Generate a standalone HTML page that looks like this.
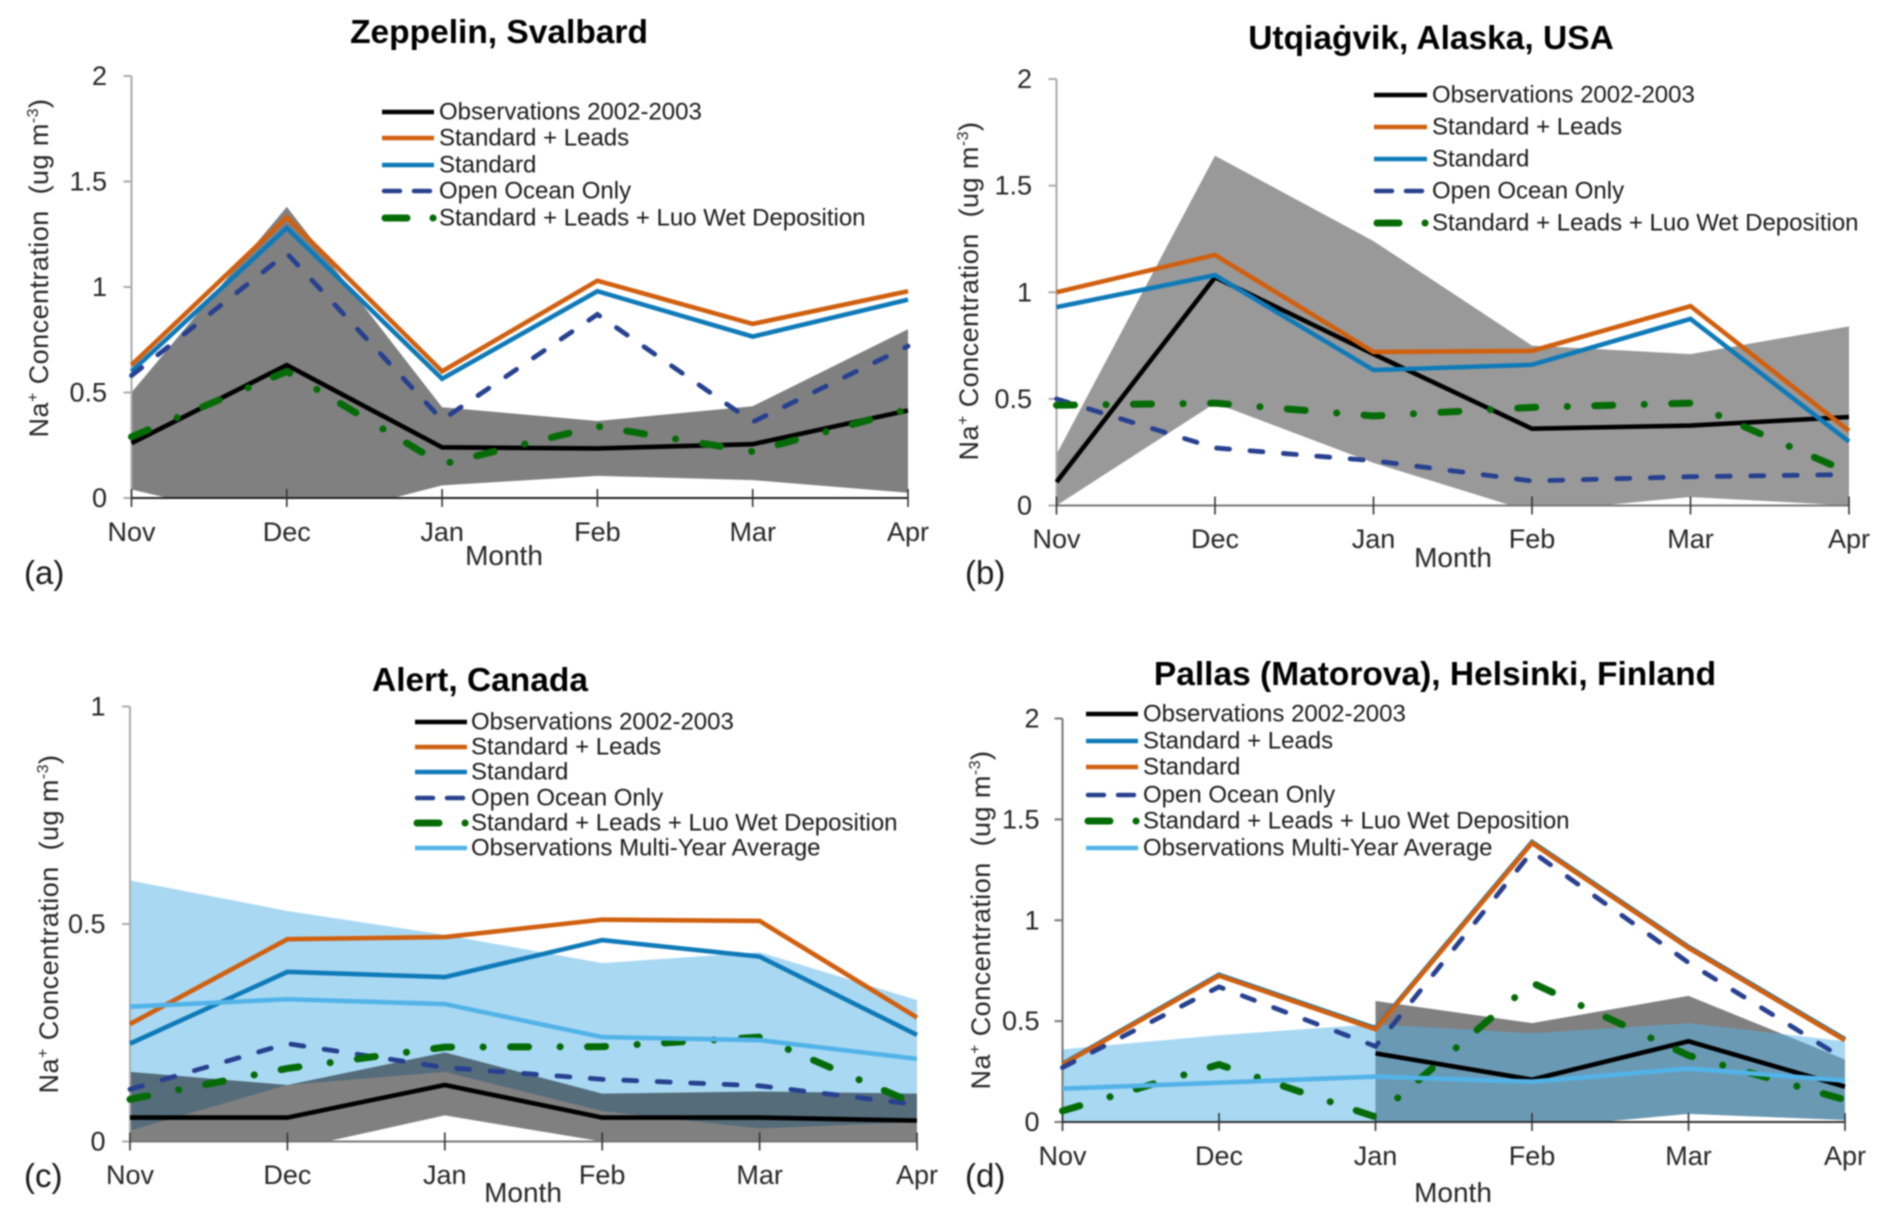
<!DOCTYPE html>
<html lang="en">
<head>
<meta charset="utf-8">
<title>Na+ Concentration at Arctic Sites</title>
<style>
html,body{margin:0;padding:0;background:#fff;}
#figure{display:block;width:1892px;height:1231px;filter:blur(0.7px);font-family:"Liberation Sans",Arial,sans-serif;}
.title{font-size:33.5px;font-weight:bold;text-anchor:middle;fill:#000;}
.leg{font-size:24px;fill:#1a1a1a;dominant-baseline:central;}
.ylab{font-size:27px;fill:#262626;text-anchor:middle;letter-spacing:0.45px;}
.month{font-size:28px;fill:#262626;text-anchor:middle;}
.letter{font-size:33px;fill:#1a1a1a;}
.tick{font-size:27px;fill:#262626;}
.sw{fill:none;}
</style>
</head>
<body>
<svg id="figure" xmlns="http://www.w3.org/2000/svg" width="1892" height="1231" viewBox="0 0 1892 1231">
  <rect x="0" y="0" width="1892" height="1231" fill="#fff"/>

  <g id="panel-a">
    <g id="marks-a"></g>
    <text class="title" x="499" y="43">Zeppelin, Svalbard</text>
    <text class="ylab" transform="translate(48 268) rotate(-90)">Na<tspan font-size="16" dy="-10">+</tspan><tspan dy="10"> Concentration &#160;(ug m</tspan><tspan font-size="16" dy="-10">-3</tspan><tspan dy="10">)</tspan></text>
    <text class="month" x="504" y="565">Month</text>
    <text class="letter" x="24" y="584">(a)</text>
    <g>
      <g><line class="sw" x1="382" x2="434" y1="112" y2="112" stroke="#000" stroke-width="4.5"/><text class="leg" x="439" y="112">Observations 2002-2003</text></g>
      <g><line class="sw" x1="382" x2="434" y1="138" y2="138" stroke="#d0600f" stroke-width="4.5"/><text class="leg" x="439" y="138">Standard + Leads</text></g>
      <g><line class="sw" x1="382" x2="434" y1="165" y2="165" stroke="#0f7ab8" stroke-width="4.5"/><text class="leg" x="439" y="165">Standard</text></g>
      <g><line class="sw" x1="384" x2="434" y1="191" y2="191" stroke="#27408f" stroke-width="4.5" stroke-dasharray="16 14" stroke-linecap="round"/><text class="leg" x="439" y="191">Open Ocean Only</text></g>
      <g><line class="sw" x1="385" x2="434" y1="218" y2="218" stroke="#056b07" stroke-width="7" stroke-dasharray="22 26 0.1 40" stroke-linecap="round"/><text class="leg" x="439" y="218">Standard + Leads + Luo Wet Deposition</text></g>
    </g>
  </g>

  <g id="panel-b">
    <g id="marks-b"></g>
    <text class="title" x="1431" y="49">Utqiaġvik, Alaska, USA</text>
    <text class="ylab" transform="translate(978 291) rotate(-90)">Na<tspan font-size="16" dy="-10">+</tspan><tspan dy="10"> Concentration &#160;(ug m</tspan><tspan font-size="16" dy="-10">-3</tspan><tspan dy="10">)</tspan></text>
    <text class="month" x="1453" y="567">Month</text>
    <text class="letter" x="965" y="584">(b)</text>
    <g>
      <g><line class="sw" x1="1374" x2="1427" y1="95" y2="95" stroke="#000" stroke-width="4.5"/><text class="leg" x="1432" y="95">Observations 2002-2003</text></g>
      <g><line class="sw" x1="1374" x2="1427" y1="127" y2="127" stroke="#d0600f" stroke-width="4.5"/><text class="leg" x="1432" y="127">Standard + Leads</text></g>
      <g><line class="sw" x1="1374" x2="1427" y1="159" y2="159" stroke="#0f7ab8" stroke-width="4.5"/><text class="leg" x="1432" y="159">Standard</text></g>
      <g><line class="sw" x1="1376" x2="1427" y1="191" y2="191" stroke="#27408f" stroke-width="4.5" stroke-dasharray="16 14" stroke-linecap="round"/><text class="leg" x="1432" y="191">Open Ocean Only</text></g>
      <g><line class="sw" x1="1377" x2="1427" y1="223" y2="223" stroke="#056b07" stroke-width="7" stroke-dasharray="22 26 0.1 40" stroke-linecap="round"/><text class="leg" x="1432" y="223">Standard + Leads + Luo Wet Deposition</text></g>
    </g>
  </g>

  <g id="panel-c">
    <g id="marks-c"></g>
    <text class="title" x="480" y="691">Alert, Canada</text>
    <text class="ylab" transform="translate(58 924) rotate(-90)">Na<tspan font-size="16" dy="-10">+</tspan><tspan dy="10"> Concentration &#160;(ug m</tspan><tspan font-size="16" dy="-10">-3</tspan><tspan dy="10">)</tspan></text>
    <text class="month" x="523" y="1202">Month</text>
    <text class="letter" x="24" y="1187">(c)</text>
    <g>
      <g><line class="sw" x1="415" x2="467" y1="722" y2="722" stroke="#000" stroke-width="4.5"/><text class="leg" x="471" y="722">Observations 2002-2003</text></g>
      <g><line class="sw" x1="415" x2="467" y1="747" y2="747" stroke="#d0600f" stroke-width="4.5"/><text class="leg" x="471" y="747">Standard + Leads</text></g>
      <g><line class="sw" x1="415" x2="467" y1="772" y2="772" stroke="#0f7ab8" stroke-width="4.5"/><text class="leg" x="471" y="772">Standard</text></g>
      <g><line class="sw" x1="417" x2="467" y1="798" y2="798" stroke="#27408f" stroke-width="4.5" stroke-dasharray="16 14" stroke-linecap="round"/><text class="leg" x="471" y="798">Open Ocean Only</text></g>
      <g><line class="sw" x1="417" x2="467" y1="823" y2="823" stroke="#056b07" stroke-width="7" stroke-dasharray="22 26 0.1 40" stroke-linecap="round"/><text class="leg" x="471" y="823">Standard + Leads + Luo Wet Deposition</text></g>
      <g><line class="sw" x1="415" x2="467" y1="848" y2="848" stroke="#52b3e8" stroke-width="4.5"/><text class="leg" x="471" y="848">Observations Multi-Year Average</text></g>
    </g>
  </g>

  <g id="panel-d">
    <g id="marks-d"></g>
    <text class="title" x="1435" y="685">Pallas (Matorova), Helsinki, Finland</text>
    <text class="ylab" transform="translate(990 920) rotate(-90)">Na<tspan font-size="16" dy="-10">+</tspan><tspan dy="10"> Concentration &#160;(ug m</tspan><tspan font-size="16" dy="-10">-3</tspan><tspan dy="10">)</tspan></text>
    <text class="month" x="1453" y="1202">Month</text>
    <text class="letter" x="965" y="1187">(d)</text>
    <g>
      <g><line class="sw" x1="1086" x2="1138" y1="714" y2="714" stroke="#000" stroke-width="4.5"/><text class="leg" x="1143" y="714">Observations 2002-2003</text></g>
      <g><line class="sw" x1="1086" x2="1138" y1="741" y2="741" stroke="#0f7ab8" stroke-width="4.5"/><text class="leg" x="1143" y="741">Standard + Leads</text></g>
      <g><line class="sw" x1="1086" x2="1138" y1="767" y2="767" stroke="#d0600f" stroke-width="4.5"/><text class="leg" x="1143" y="767">Standard</text></g>
      <g><line class="sw" x1="1088" x2="1138" y1="795" y2="795" stroke="#27408f" stroke-width="4.5" stroke-dasharray="16 14" stroke-linecap="round"/><text class="leg" x="1143" y="795">Open Ocean Only</text></g>
      <g><line class="sw" x1="1088" x2="1138" y1="821" y2="821" stroke="#056b07" stroke-width="7" stroke-dasharray="22 26 0.1 40" stroke-linecap="round"/><text class="leg" x="1143" y="821">Standard + Leads + Luo Wet Deposition</text></g>
      <g><line class="sw" x1="1086" x2="1138" y1="848" y2="848" stroke="#52b3e8" stroke-width="4.5"/><text class="leg" x="1143" y="848">Observations Multi-Year Average</text></g>
    </g>
  </g>
</svg>

<script>
// ---------- shared categories ----------
const months = ['Nov', 'Dec', 'Jan', 'Feb', 'Mar', 'Apr'];

// ---------- panel (a) Zeppelin, Svalbard ----------
const zeppelinTicks = ['0', '0.5', '1', '1.5', '2'];
const zeppelinBandHigh = [0.5, 1.38, 0.43, 0.365, 0.435, 0.8];
const zeppelinBandLow = [0.04, -0.13, 0.06, 0.105, 0.085, 0.025];
const zeppelinObs = [0.26, 0.63, 0.24, 0.235, 0.255, 0.415];
const zeppelinLeads = [0.63, 1.33, 0.6, 1.03, 0.825, 0.98];
const zeppelinStandard = [0.6, 1.28, 0.565, 0.98, 0.765, 0.94];
const zeppelinOpenOcean = [0.58, 1.16, 0.37, 0.87, 0.36, 0.72];
const zeppelinLuo = [0.29, 0.6, 0.16, 0.34, 0.22, 0.42];

// ---------- panel (b) Utqiagvik, Alaska ----------
const utqiagvikTicks = ['0', '0.5', '1', '1.5', '2'];
const utqiagvikBandHigh = [0.24, 1.64, 1.24, 0.75, 0.71, 0.84];
const utqiagvikBandLow = [0, 0.48, 0.2, -0.03, 0.04, 0];
const utqiagvikObs = [0.11, 1.07, 0.71, 0.36, 0.375, 0.415];
const utqiagvikLeads = [1.0, 1.175, 0.72, 0.725, 0.935, 0.35];
const utqiagvikStandard = [0.93, 1.08, 0.635, 0.66, 0.875, 0.3];
const utqiagvikOpenOcean = [0.5, 0.27, 0.21, 0.115, 0.135, 0.145];
const utqiagvikLuo = [0.47, 0.48, 0.42, 0.46, 0.48, 0.155];

// ---------- panel (c) Alert, Canada ----------
const alertTicks = ['0', '0.5', '1'];
const alertMultiHigh = [0.6, 0.53, 0.475, 0.41, 0.435, 0.325];
const alertMultiLow = [0.025, 0.13, 0.16, 0.07, 0.03, 0.045];
const alertBandHigh = [0.16, 0.13, 0.205, 0.11, 0.115, 0.11];
const alertBandLow = [0, -0.02, 0.06, 0, 0, 0];
const alertObs = [0.055, 0.055, 0.13, 0.055, 0.055, 0.048];
const alertLeads = [0.27, 0.465, 0.47, 0.51, 0.507, 0.285];
const alertStandard = [0.225, 0.39, 0.378, 0.463, 0.425, 0.245];
const alertOpenOcean = [0.12, 0.225, 0.17, 0.143, 0.128, 0.085];
const alertLuo = [0.097, 0.168, 0.217, 0.218, 0.24, 0.085];
const alertMulti = [0.31, 0.327, 0.316, 0.24, 0.233, 0.19];

// ---------- panel (d) Pallas, Finland ----------
const pallasTicks = ['0', '0.5', '1', '1.5', '2'];
const pallasMultiHigh = [0.36, 0.43, 0.485, 0.44, 0.49, 0.4];
const pallasMultiLow = [0, 0, 0, -0.03, 0.04, 0.01];
const pallasBandHigh = [null, null, 0.6, 0.49, 0.625, 0.31];
const pallasBandLow = [null, null, 0, -0.03, 0.04, 0.01];
const pallasObs = [null, null, 0.34, 0.21, 0.4, 0.175];
const pallasLeads = [0.288, 0.73, 0.465, 1.388, 0.868, 0.41];
const pallasStandard = [0.285, 0.725, 0.46, 1.383, 0.863, 0.405];
const pallasOpenOcean = [0.27, 0.67, 0.375, 1.34, 0.79, 0.31];
const pallasLuo = [0.055, 0.285, 0.025, 0.69, 0.33, 0.11];
const pallasMulti = [0.165, 0.195, 0.225, 0.2, 0.265, 0.205];

// ---------- styles ----------
const SVG_NS = 'http://www.w3.org/2000/svg';
const COLORS = { obs: '#000000', leads: '#d0600f', standard: '#0f7ab8', open: '#27408f', luo: '#056b07', multi: '#52b3e8' };
const WIDTHS = { obs: 4.6, leads: 4.6, standard: 4.6, open: 4.8, luo: 7, multi: 4.6 };
const OPEN_DASH = '13 20.5';
const LUO_DASH = '18 31.5 0.1 27.4';

function make(parent, tag, attrs) {
  const el = document.createElementNS(SVG_NS, tag);
  for (const k in attrs) el.setAttribute(k, attrs[k]);
  parent.appendChild(el);
  return el;
}

function axisScales(frame, maxValue) {
  return {
    x: function (i) { return frame.left + (frame.right - frame.left) * i / (months.length - 1); },
    y: function (v) { return frame.zero - (frame.zero - frame.top) * v / maxValue; }
  };
}

function presentIndexes(values) {
  const out = [];
  values.forEach(function (v, i) { if (v !== null) out.push(i); });
  return out;
}

function drawBand(g, scales, high, low, fill, opts, name) {
  const idx = presentIndexes(high);
  const top = idx.map(function (i) { return scales.x(i) + ',' + scales.y(high[i]); });
  const bottom = idx.slice().reverse().map(function (i) { return scales.x(i) + ',' + scales.y(low[i]); });
  const el = make(g, 'polygon', { points: top.concat(bottom).join(' '), fill: fill, 'clip-path': opts.clip });
  if (opts.opacity) el.setAttribute('fill-opacity', opts.opacity);
  if (opts.blend) el.style.mixBlendMode = opts.blend;
  
  
}

function drawSeries(g, scales, values, key, name) {
  const idx = presentIndexes(values);
  const pts = idx.map(function (i) { return scales.x(i) + ',' + scales.y(values[i]); }).join(' ');
  const el = make(g, 'polyline', {
    points: pts, fill: 'none', stroke: COLORS[key], 'stroke-width': WIDTHS[key], 'stroke-linejoin': 'miter'
  });
  if (key === 'open') { el.setAttribute('stroke-dasharray', OPEN_DASH); el.setAttribute('stroke-linecap', 'round'); }
  if (key === 'luo') { el.setAttribute('stroke-dasharray', LUO_DASH); el.setAttribute('stroke-linecap', 'round'); }
  
  
}

function drawAxes(g, frame, scales, ticks, xAxisColor, yAxisColor, labelRight) {
  const yAxis = make(g, 'line', { x1: frame.left, x2: frame.left, y1: frame.top, y2: frame.zero, stroke: yAxisColor, 'stroke-width': 2 });
  
  
  const xAxis = make(g, 'line', { x1: frame.left - 8, x2: frame.right, y1: frame.zero, y2: frame.zero, stroke: xAxisColor, 'stroke-width': 2 });
  
  
  ticks.forEach(function (label) {
    const v = parseFloat(label);
    const y = scales.y(v);
    const mark = make(g, 'line', { x1: frame.left - 8, x2: frame.left, y1: y, y2: y, stroke: yAxisColor, 'stroke-width': 2 });
    
    
    const t = make(g, 'text', { class: 'tick', x: labelRight, y: y + 9, 'text-anchor': 'end' });
    t.textContent = label;
    
    
  });
  months.forEach(function (label, i) {
    const x = scales.x(i);
    const mark = make(g, 'line', { x1: x, x2: x, y1: frame.zero - 9, y2: frame.zero + 9, stroke: '#333', 'stroke-width': 1.6 });
    
    
    const t = make(g, 'text', { class: 'tick', x: x, y: frame.labelY, 'text-anchor': 'middle' });
    t.textContent = label;
    
    
  });
}

function addClip(g, id, frame) {
  const defs = make(g, 'defs', {});
  const cp = make(defs, 'clipPath', { id: id });
  make(cp, 'rect', { x: frame.left - 2, y: frame.top - 20, width: frame.right - frame.left + 4, height: frame.zero - frame.top + 20 });
  return 'url(#' + id + ')';
}

// ---------- panel a ----------
(function () {
  const g = document.getElementById('marks-a');
  const frame = { left: 131.5, right: 908, top: 76, zero: 498, labelY: 541 };
  const s = axisScales(frame, 2);
  const clip = addClip(g, 'clip-a', frame);
  drawBand(g, s, zeppelinBandHigh, zeppelinBandLow, '#808080', { clip: clip }, 'observation-range-band');
  drawAxes(g, frame, s, zeppelinTicks, '#222', '#aaa', 107);
  drawSeries(g, s, zeppelinObs, 'obs', 'observations-line');
  drawSeries(g, s, zeppelinLeads, 'leads', 'standard-leads-line');
  drawSeries(g, s, zeppelinStandard, 'standard', 'standard-line');
  drawSeries(g, s, zeppelinOpenOcean, 'open', 'open-ocean-line');
  drawSeries(g, s, zeppelinLuo, 'luo', 'luo-wet-deposition-line');
})();

// ---------- panel b ----------
(function () {
  const g = document.getElementById('marks-b');
  const frame = { left: 1056.5, right: 1849, top: 79, zero: 505.5, labelY: 548 };
  const s = axisScales(frame, 2);
  const clip = addClip(g, 'clip-b', frame);
  drawBand(g, s, utqiagvikBandHigh, utqiagvikBandLow, '#999999', { clip: clip }, 'observation-range-band');
  drawAxes(g, frame, s, utqiagvikTicks, '#777', '#aaa', 1032);
  drawSeries(g, s, utqiagvikObs, 'obs', 'observations-line');
  drawSeries(g, s, utqiagvikLeads, 'leads', 'standard-leads-line');
  drawSeries(g, s, utqiagvikStandard, 'standard', 'standard-line');
  drawSeries(g, s, utqiagvikOpenOcean, 'open', 'open-ocean-line');
  drawSeries(g, s, utqiagvikLuo, 'luo', 'luo-wet-deposition-line');
})();

// ---------- panel c ----------
(function () {
  const g = document.getElementById('marks-c');
  g.style.isolation = 'isolate';
  const frame = { left: 130, right: 917, top: 706.5, zero: 1141.5, labelY: 1184 };
  const s = axisScales(frame, 1);
  const clip = addClip(g, 'clip-c', frame);
  drawBand(g, s, alertMultiHigh, alertMultiLow, '#a9d8f3', { clip: clip }, 'multi-year-range-band');
  drawBand(g, s, alertBandHigh, alertBandLow, '#808080', { clip: clip, blend: 'multiply' }, 'observation-range-band');
  drawAxes(g, frame, s, alertTicks, '#777', '#aaa', 105.5);
  drawSeries(g, s, alertObs, 'obs', 'observations-line');
  drawSeries(g, s, alertLeads, 'leads', 'standard-leads-line');
  drawSeries(g, s, alertStandard, 'standard', 'standard-line');
  drawSeries(g, s, alertOpenOcean, 'open', 'open-ocean-line');
  drawSeries(g, s, alertLuo, 'luo', 'luo-wet-deposition-line');
  drawSeries(g, s, alertMulti, 'multi', 'multi-year-average-line');
})();

// ---------- panel d ----------
(function () {
  const g = document.getElementById('marks-d');
  const frame = { left: 1062.5, right: 1845, top: 718.5, zero: 1122, labelY: 1165 };
  const s = axisScales(frame, 2);
  const clip = addClip(g, 'clip-d', frame);
  drawBand(g, s, pallasBandHigh, pallasBandLow, '#808080', { clip: clip }, 'observation-range-band');
  drawBand(g, s, pallasMultiHigh, pallasMultiLow, '#53b1e7', { clip: clip, opacity: 0.5 }, 'multi-year-range-band');
  drawAxes(g, frame, s, pallasTicks, '#333', '#777', 1039.5);
  drawSeries(g, s, pallasObs, 'obs', 'observations-line');
  drawSeries(g, s, pallasLeads, 'standard', 'standard-leads-line');
  drawSeries(g, s, pallasStandard, 'leads', 'standard-line');
  drawSeries(g, s, pallasOpenOcean, 'open', 'open-ocean-line');
  drawSeries(g, s, pallasLuo, 'luo', 'luo-wet-deposition-line');
  drawSeries(g, s, pallasMulti, 'multi', 'multi-year-average-line');
})();
</script>
</body>
</html>
